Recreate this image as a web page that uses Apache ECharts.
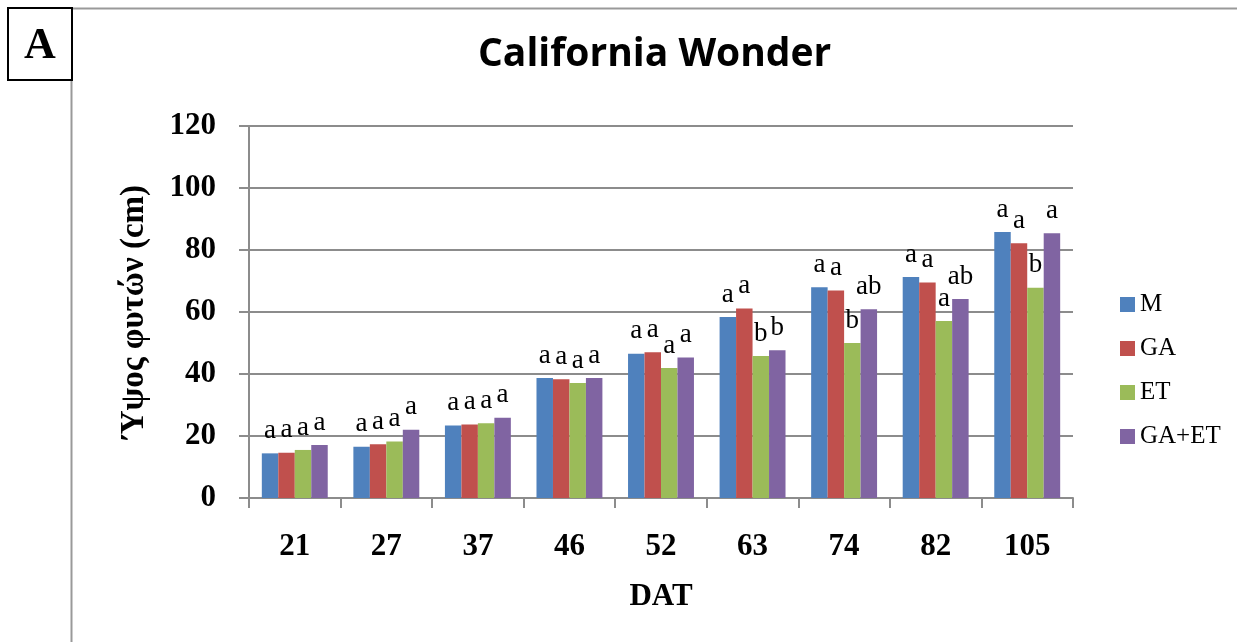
<!DOCTYPE html>
<html>
<head>
<meta charset="utf-8">
<script src="https://cdn.jsdelivr.net/npm/echarts@6/dist/echarts.min.js"></script>
<style>
html,body{margin:0;padding:0;background:#fff;}
#chart{width:1237px;height:642px;}
</style>
</head>
<body>
<div id="chart"></div>
<script>
// ---- data ----
const categories = ['21', '27', '37', '46', '52', '63', '74', '82', '105'];
const seriesNames = ['M', 'GA', 'ET', 'GA+ET'];
const valuesM    = [14.4, 16.5, 23.4, 38.7, 46.5, 58.4, 68.0, 71.3, 85.8];
const valuesGA   = [14.6, 17.3, 23.7, 38.3, 47.0, 61.1, 66.9, 69.5, 82.2];
const valuesET   = [15.5, 18.2, 24.1, 37.1, 41.9, 45.8, 50.0, 57.1, 67.8];
const valuesGAET = [17.1, 22.0, 25.9, 38.7, 45.3, 47.7, 60.9, 64.2, 85.4];
const lettersM    = ['a', 'a', 'a', 'a', 'a', 'a', 'a', 'a', 'a'];
const lettersGA   = ['a', 'a', 'a', 'a', 'a', 'a', 'a', 'a', 'a'];
const lettersET   = ['a', 'a', 'a', 'a', 'a', 'b', 'b', 'a', 'b'];
const lettersGAET = ['a', 'a', 'a', 'a', 'a', 'b', 'ab', 'ab', 'a'];
const yTicks = [0, 20, 40, 60, 80, 100, 120];

const colors = ['#4F81BD', '#C0504D', '#9BBB59', '#8064A2'];
const allValues = [valuesM, valuesGA, valuesET, valuesGAET];
const allLetters = [lettersM, lettersGA, lettersET, lettersGAET];

const serif = '"Liberation Serif", "DejaVu Serif", serif';

const chart = echarts.init(document.getElementById('chart'), null, {renderer: 'canvas'});

const series = seriesNames.map((name, i) => ({
  name: name,
  type: 'bar',
  data: allValues[i],
  barGap: '0%',
  barCategoryGap: '28%',
  itemStyle: {color: colors[i]},
  label: {
    show: true,
    position: 'top',
    distance: 9,
    fontFamily: serif,
    fontSize: 27,
    color: '#000',
    formatter: p => allLetters[i][p.dataIndex]
  }
}));

chart.setOption({
  animation: false,
  backgroundColor: '#fff',
  title: {
    text: 'California Wonder',
    left: 473,
    top: 30,
    textStyle: {fontFamily: '"Open Sans", Lato, sans-serif', fontWeight: 'bold', fontSize: 39, color: '#000'}
  },
  legend: {
    orient: 'vertical',
    left: 1115,
    top: 287,
    itemWidth: 15,
    itemHeight: 15,
    itemGap: 19,
    icon: 'rect',
    textStyle: {fontFamily: serif, fontSize: 25, color: '#000'},
    data: seriesNames
  },
  grid: {left: 249, right: 164, top: 126, bottom: 144, containLabel: false},
  xAxis: {
    type: 'category',
    data: categories,
    name: 'DAT',
    nameLocation: 'middle',
    nameGap: 83,
    nameTextStyle: {fontFamily: serif, fontWeight: 'bold', fontSize: 31, color: '#000'},
    axisLine: {lineStyle: {color: '#8c8c8c', width: 2}},
    axisTick: {show: true, length: 10, lineStyle: {color: '#8c8c8c', width: 2}},
    axisLabel: {margin: 33, fontFamily: serif, fontWeight: 'bold', fontSize: 31, color: '#000'}
  },
  yAxis: {
    type: 'value',
    min: 0,
    max: 120,
    interval: 20,
    name: 'Ύψος φυτών (cm)',
    nameLocation: 'middle',
    nameRotate: 90,
    nameGap: 98,
    nameTextStyle: {fontFamily: serif, fontWeight: 'bold', fontSize: 33, color: '#000'},
    axisLine: {show: true, lineStyle: {color: '#8c8c8c', width: 2}},
    axisTick: {show: true, length: 10, lineStyle: {color: '#8c8c8c', width: 2}},
    splitLine: {show: true, lineStyle: {color: '#8c8c8c', width: 2}},
    axisLabel: {
      margin: 33,
      fontFamily: serif, fontWeight: 'bold', fontSize: 31, color: '#000',
      formatter: v => (yTicks.indexOf(v) >= 0 ? String(v) : '')
    }
  },
  graphic: [
    {type: 'line', shape: {x1: 72, y1: 8.5, x2: 1237, y2: 8.5}, style: {stroke: '#999', lineWidth: 2}, silent: true},
    {type: 'line', shape: {x1: 71.5, y1: 80, x2: 71.5, y2: 642}, style: {stroke: '#999', lineWidth: 2}, silent: true},
    {type: 'rect', shape: {x: 8, y: 8, width: 64, height: 72}, style: {fill: '#fff', stroke: '#000', lineWidth: 2}, silent: true},
    {type: 'text', x: 40, y: 47, style: {text: 'A', fontFamily: serif, fontWeight: 'bold', fontSize: 44, fill: '#000', textAlign: 'center', textVerticalAlign: 'middle'}, silent: true}
  ],
  series: series
});
</script>
</body>
</html>
